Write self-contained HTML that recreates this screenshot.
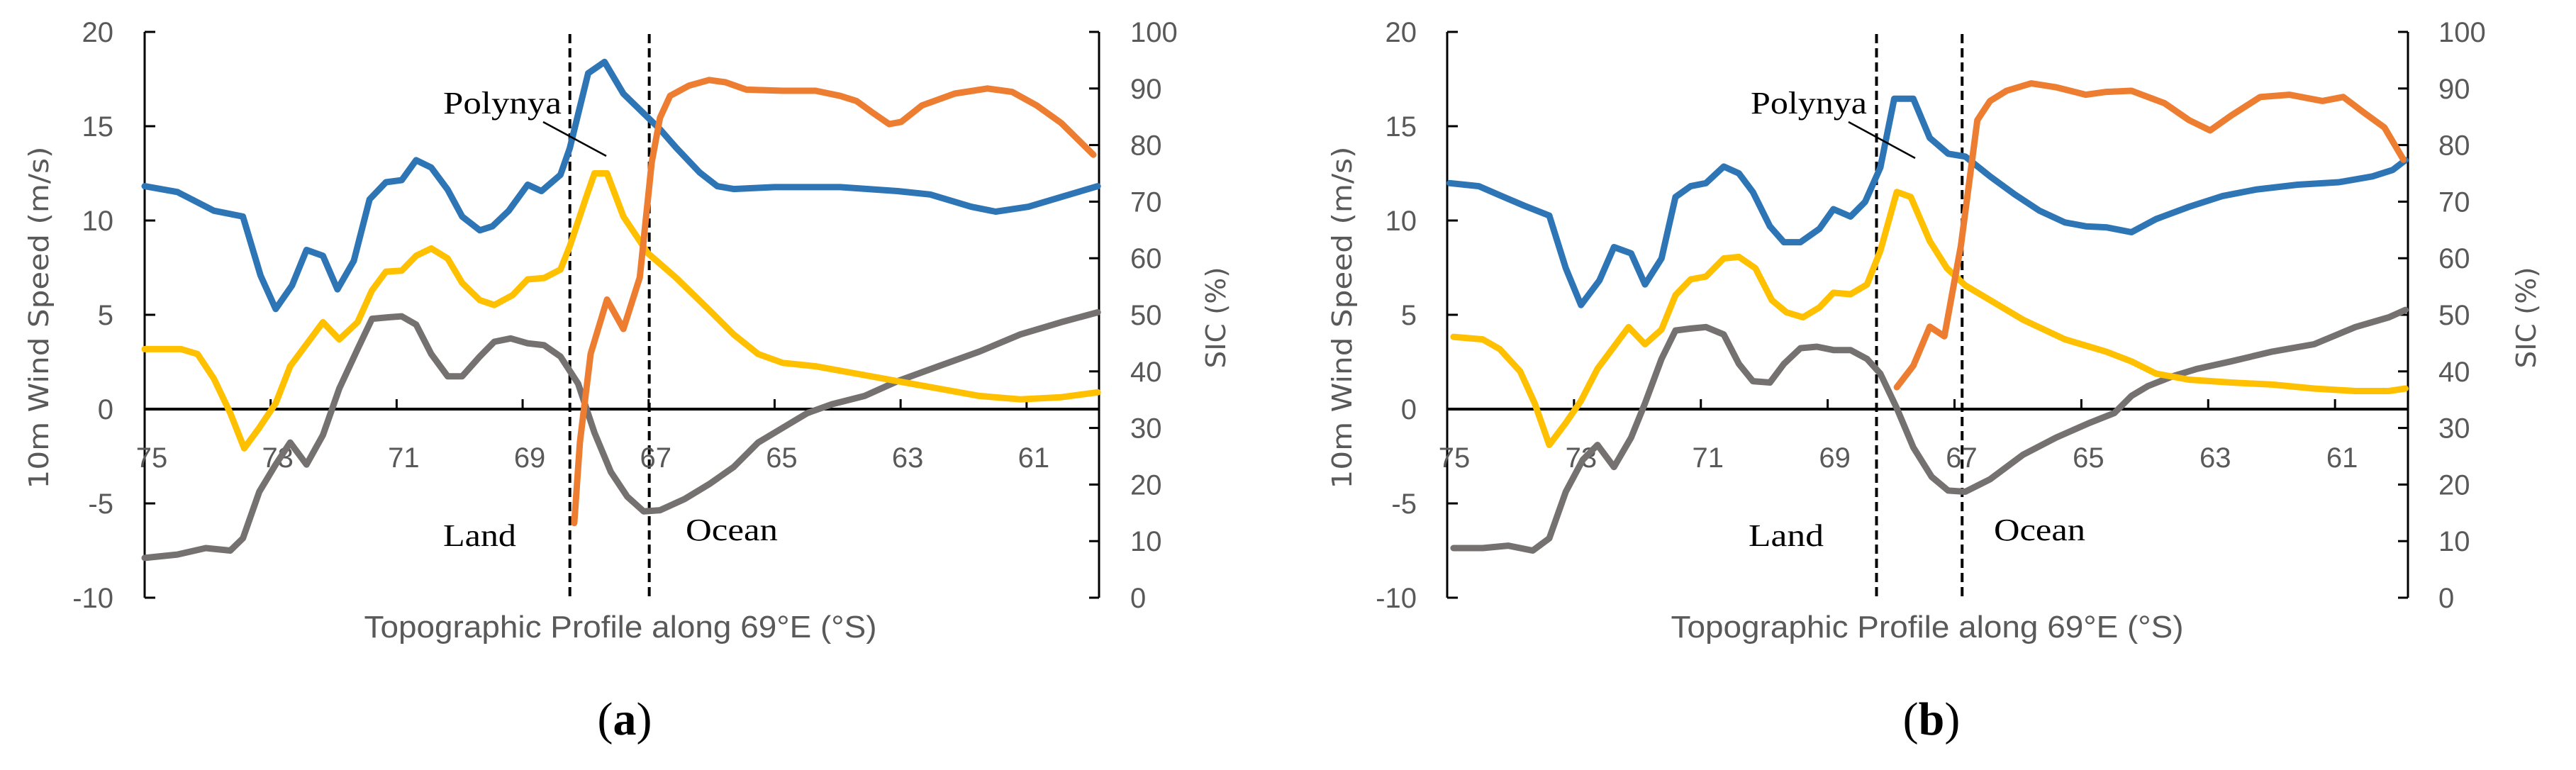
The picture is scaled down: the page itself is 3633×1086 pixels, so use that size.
<!DOCTYPE html>
<html><head><meta charset="utf-8">
<style>
html,body{margin:0;padding:0;background:#fff;}
svg{display:block;}
.tk{font-family:"Liberation Sans Narrow","Liberation Sans",sans-serif;font-size:40px;fill:#595959;}
.ti{font-family:"Liberation Sans Narrow","Liberation Sans",sans-serif;font-size:44px;fill:#595959;}
.tiw{font-family:"DejaVu Sans","Liberation Sans",sans-serif;font-size:38px;fill:#595959;}
.sr{font-family:"Liberation Serif",serif;font-size:44px;fill:#000;}
.cap{font-family:"Liberation Serif",serif;font-size:66px;fill:#000;}
</style></head>
<body>
<svg id="chart" width="3633" height="1086" viewBox="0 0 3633 1086" xmlns="http://www.w3.org/2000/svg"></svg>
<script>
// ---- Panel (a) data ----
const aBlueLat=[75.0,74.48,73.90,73.44,73.16,72.92,72.66,72.43,72.17,71.94,71.68,71.43,71.17,70.92,70.69,70.45,70.19,69.96,69.68,69.48,69.22,68.92,68.70,68.40,68.25,67.96,67.70,67.40,67.08,66.82,66.56,66.19,65.91,65.65,65.0,63.96,63.05,62.53,61.88,61.49,60.97,60.45,59.87];
const aBlueVal=[11.82,11.51,10.52,10.21,7.08,5.31,6.56,8.44,8.13,6.35,7.86,11.12,12.03,12.14,13.2,12.81,11.64,10.21,9.48,9.69,10.52,11.9,11.56,12.42,13.85,17.81,18.41,16.72,15.68,14.84,13.85,12.55,11.82,11.67,11.77,11.77,11.56,11.38,10.73,10.47,10.73,11.25,11.82];
const aYelLat=[75.0,74.42,74.16,73.90,73.64,73.42,73.18,72.92,72.69,72.43,72.17,71.91,71.62,71.39,71.17,70.92,70.69,70.45,70.19,69.96,69.68,69.45,69.16,68.92,68.66,68.40,68.25,67.99,67.86,67.66,67.40,67.01,66.56,66.04,65.65,65.26,64.87,64.35,63.70,63.05,62.40,61.75,61.10,60.45,59.87];
const aYelVal=[3.18,3.18,2.92,1.61,-0.21,-2.08,-0.99,0.31,2.27,3.44,4.61,3.7,4.61,6.3,7.29,7.34,8.13,8.52,7.99,6.69,5.78,5.52,6.04,6.88,6.95,7.4,8.65,11.25,12.5,12.5,10.21,8.26,6.95,5.26,3.96,2.92,2.45,2.27,1.88,1.48,1.09,0.7,0.52,0.63,0.89];
const aGrayLat=[75.0,74.48,74.03,73.64,73.44,73.18,72.92,72.69,72.43,72.17,71.91,71.62,71.39,71.13,70.92,70.69,70.45,70.19,69.96,69.68,69.45,69.19,68.92,68.66,68.40,68.12,67.86,67.60,67.34,67.08,66.82,66.43,66.04,65.65,65.26,64.87,64.48,64.09,63.57,63.05,62.40,61.75,61.10,60.45,59.87];
const aGrayVal=[-7.89,-7.71,-7.37,-7.5,-6.85,-4.38,-2.94,-1.77,-2.94,-1.38,1.09,3.18,4.79,4.87,4.92,4.48,2.92,1.74,1.74,2.79,3.57,3.75,3.49,3.39,2.79,1.35,-1.25,-3.33,-4.64,-5.42,-5.36,-4.77,-3.98,-3.07,-1.77,-0.99,-0.21,0.26,0.7,1.48,2.27,3.05,3.96,4.61,5.13];
const aSicLat=[68.18,68.09,67.92,67.66,67.40,67.14,66.95,66.82,66.66,66.36,66.04,65.78,65.45,64.87,64.35,63.96,63.70,63.44,63.18,62.99,62.66,62.14,61.62,61.23,60.84,60.45,59.94];
const aSicVal=[13.2,27.5,43.1,52.7,47.5,56.6,77.0,84.8,88.7,90.5,91.5,91.1,89.8,89.6,89.6,88.7,87.8,85.7,83.7,84.1,87.0,89.1,90.0,89.4,87.0,83.9,78.3];
// ---- Panel (b) data ----
const bBlueLat=[74.96,74.5,74.11,73.78,73.39,73.13,72.89,72.6,72.37,72.1,71.88,71.62,71.4,71.16,70.92,70.64,70.4,70.18,69.91,69.69,69.43,69.13,68.91,68.64,68.41,68.17,67.95,67.65,67.39,67.1,66.83,66.44,66.05,65.66,65.26,64.93,64.61,64.21,63.82,63.3,62.77,62.25,61.59,60.94,60.41,60.09,59.89];
const bBlueVal=[11.98,11.82,11.25,10.78,10.26,7.47,5.52,6.82,8.59,8.26,6.61,7.99,11.25,11.82,11.98,12.86,12.5,11.51,9.69,8.85,8.85,9.56,10.6,10.21,10.99,12.81,16.46,16.46,14.38,13.54,13.39,12.34,11.38,10.52,9.9,9.69,9.64,9.38,10.08,10.73,11.3,11.64,11.9,12.03,12.34,12.68,13.2];
const bYelLat=[74.9,74.44,74.17,73.85,73.62,73.39,73.13,72.89,72.63,72.37,72.14,71.88,71.62,71.4,71.16,70.92,70.64,70.4,70.14,69.88,69.65,69.39,69.13,68.91,68.64,68.38,68.17,67.91,67.69,67.39,67.12,66.83,66.44,65.92,65.26,64.61,64.21,63.82,63.3,62.64,61.99,61.33,60.68,60.15,59.89];
const bYelVal=[3.83,3.7,3.18,2.0,0.31,-1.9,-0.73,0.44,2.14,3.31,4.35,3.44,4.22,6.04,6.88,7.03,7.99,8.07,7.47,5.78,5.13,4.87,5.39,6.17,6.09,6.61,8.39,11.51,11.25,8.91,7.47,6.56,5.78,4.74,3.7,3.05,2.53,1.88,1.56,1.41,1.3,1.09,0.96,0.96,1.09];
const bGrayLat=[74.9,74.44,74.04,73.65,73.39,73.13,72.86,72.63,72.37,72.1,71.88,71.62,71.4,71.16,70.92,70.64,70.4,70.18,69.91,69.69,69.43,69.17,68.91,68.64,68.38,68.17,67.91,67.65,67.36,67.1,66.83,66.44,65.92,65.4,64.87,64.48,64.21,63.95,63.56,63.17,62.64,61.99,61.33,60.68,60.15,59.89];
const bGrayVal=[-7.37,-7.37,-7.24,-7.5,-6.85,-4.38,-2.68,-1.9,-3.07,-1.51,0.31,2.66,4.17,4.27,4.35,3.96,2.4,1.48,1.41,2.4,3.23,3.31,3.13,3.13,2.66,1.88,0.05,-2.03,-3.59,-4.32,-4.38,-3.72,-2.42,-1.51,-0.73,-0.21,0.7,1.22,1.74,2.14,2.53,3.05,3.44,4.35,4.87,5.26];
const bSicLat=[67.91,67.65,67.39,67.16,66.9,66.64,66.44,66.18,65.79,65.39,64.93,64.61,64.21,63.69,63.3,62.97,62.64,62.18,61.72,61.2,60.87,60.54,60.22,59.92];
const bSicVal=[37.2,41.0,47.9,46.2,62.2,84.4,87.8,89.6,90.9,90.2,88.9,89.4,89.6,87.4,84.4,82.6,85.2,88.5,88.9,87.8,88.5,85.7,83.1,77.4];
// ---- Axis tick labels ----
const leftTicks=[20,15,10,5,0,-5,-10];
const rightTicks=[100,90,80,70,60,50,40,30,20,10,0];
const xTicks=[75,73,71,69,67,65,63,61];
const aDividers=[68.25,66.99];
const bDividers=[68.23,66.88];

const NS='http://www.w3.org/2000/svg';
const svg=document.getElementById('chart');
function mk(tag,attrs,parent){const e=document.createElementNS(NS,tag);for(const k in attrs)e.setAttribute(k,attrs[k]);(parent||svg).appendChild(e);return e;}

function panel(p){
  const g=mk('g',{});
  
  
  const top=45,bot=843;
  const X=lat=>p.L+(75-lat)/(75-59.85)*(p.R-p.L);
  const Y=v=>bot-(v+10)/30*(bot-top);
  const Y2=v=>bot-v/100*(bot-top);
  // dividers
  p.div.forEach((d,i)=>{
    const l=mk('line',{x1:X(d),x2:X(d),y1:48,y2:848,stroke:'#000','stroke-width':4,'stroke-dasharray':'13,7'},g);
    
    
  });
  // left axis
  const la=mk('line',{x1:p.L,x2:p.L,y1:top,y2:bot,stroke:'#000','stroke-width':3},g);
  
  
  leftTicks.forEach(v=>{
    mk('line',{x1:p.L,x2:p.L+15,y1:Y(v),y2:Y(v),stroke:'#000','stroke-width':3},g);
    const t=mk('text',{x:p.lLab,y:Y(v)+14,'text-anchor':'end',class:'tk'},g);
    t.textContent=v;
    
    
  });
  // right axis
  const ra=mk('line',{x1:p.R,x2:p.R,y1:top,y2:bot,stroke:'#000','stroke-width':3},g);
  
  
  rightTicks.forEach(v=>{
    mk('line',{x1:p.R-14,x2:p.R,y1:Y2(v),y2:Y2(v),stroke:'#000','stroke-width':3},g);
    const t=mk('text',{x:p.rLab,y:Y2(v)+14,'text-anchor':'start',class:'tk'},g);
    t.textContent=v;
    
    
  });
  // zero line / x axis
  const za=mk('line',{x1:p.L,x2:p.R,y1:Y(0),y2:Y(0),stroke:'#000','stroke-width':4},g);
  
  
  xTicks.forEach(v=>{
    mk('line',{x1:X(v),x2:X(v),y1:Y(0),y2:Y(0)-14,stroke:'#000','stroke-width':3},g);
    const t=mk('text',{x:X(v)+10,y:Y(0)+82,'text-anchor':'middle',class:'tk'},g);
    t.textContent=v;
    
    
  });
  // series
  const series=[
    {lat:p.gray,val:p.grayV,col:'#767171',ax:Y,n:'gray-series'},
    {lat:p.yel,val:p.yelV,col:'#ffc000',ax:Y,n:'yellow-series'},
    {lat:p.blue,val:p.blueV,col:'#2e75b6',ax:Y,n:'blue-wind-series'},
    {lat:p.sic,val:p.sicV,col:'#ed7d31',ax:Y2,n:'sic-series'}
  ];
  series.forEach(s=>{
    const d=s.lat.map((la,i)=>(i?'L':'M')+X(la).toFixed(1)+','+s.ax(s.val[i]).toFixed(1)).join(' ');
    const pth=mk('path',{d:d,fill:'none',stroke:s.col,'stroke-width':9,'stroke-linejoin':'round','stroke-linecap':'round'},g);
    
    
  });
  // annotations
  const pl=mk('text',{x:p.poly[0],y:160,class:'sr',textLength:p.poly[1],lengthAdjust:'spacingAndGlyphs'},g);
  pl.textContent='Polynya';
  
  
  const ll=mk('line',{x1:p.lead[0],y1:p.lead[1],x2:p.lead[2],y2:p.lead[3],stroke:'#000','stroke-width':2.5},g);
  
  
  const ld=mk('text',{x:p.land[0],y:770,class:'sr',textLength:p.land[1],lengthAdjust:'spacingAndGlyphs'},g);
  ld.textContent='Land';
  
  
  const oc=mk('text',{x:p.ocean[0],y:762,class:'sr',textLength:p.ocean[1],lengthAdjust:'spacingAndGlyphs'},g);
  oc.textContent='Ocean';
  
  
  // titles
  const xt=mk('text',{x:p.xt,y:899,'text-anchor':'middle',class:'ti',textLength:723,lengthAdjust:'spacingAndGlyphs'},g);
  xt.textContent='Topographic Profile along 69°E (°S)';
  
  
  const yt=mk('text',{x:0,y:0,'text-anchor':'middle',class:'tiw',textLength:483,lengthAdjust:'spacingAndGlyphs',transform:'translate('+(p.yt+14)+',448) rotate(-90)'},g);
  yt.textContent='10m Wind Speed (m/s)';
  
  
  const st=mk('text',{x:0,y:0,'text-anchor':'middle',class:'tiw',textLength:143,lengthAdjust:'spacingAndGlyphs',transform:'translate('+(p.st+14)+',448) rotate(-90)'},g);
  st.textContent='SIC (%)';
  
  
  const cp=mk('text',{x:p.cap,y:1036,'text-anchor':'middle',class:'cap'},g);
  cp.innerHTML='(<tspan font-weight="bold">'+p.id+'</tspan>)';
  
  
}

panel({id:'a',L:204,R:1550,lLab:160,rLab:1594,div:aDividers,
  blue:aBlueLat,blueV:aBlueVal,yel:aYelLat,yelV:aYelVal,gray:aGrayLat,grayV:aGrayVal,sic:aSicLat,sicV:aSicVal,
  poly:[625,167],lead:[766,172,855,220],land:[625,103],ocean:[967,130],xt:875,yt:54,st:1714,cap:881});
panel({id:'b',L:2041,R:3396,lLab:1998,rLab:3439,div:bDividers,
  blue:bBlueLat,blueV:bBlueVal,yel:bYelLat,yelV:bYelVal,gray:bGrayLat,grayV:bGrayVal,sic:bSicLat,sicV:bSicVal,
  poly:[2469,164],lead:[2607,172,2701,223],land:[2466,106],ocean:[2812,129],xt:2718,yt:1892,st:3562,cap:2724});
</script>
</body></html>
